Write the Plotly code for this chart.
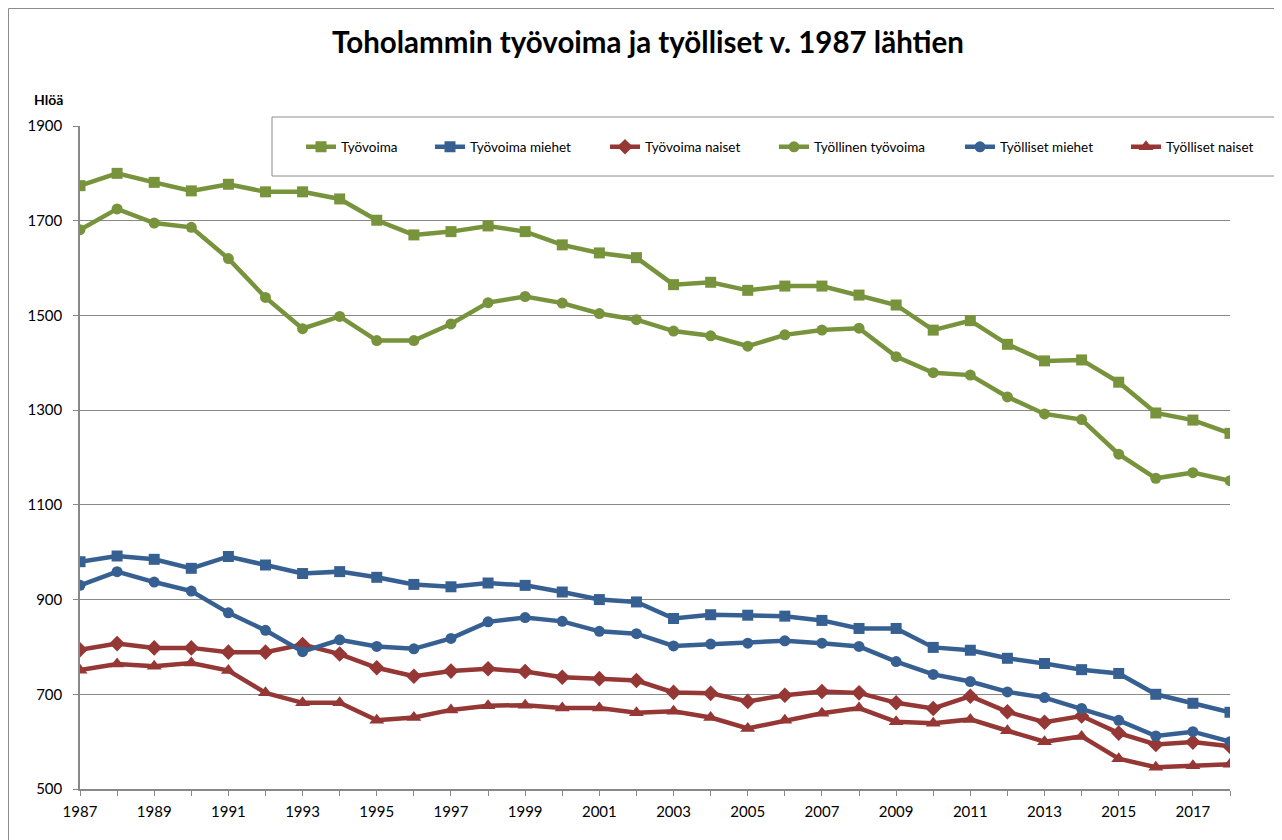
import plotly.graph_objects as go

# data
years = list(range(1987, 2019))

tyovoima = [1774, 1800, 1781, 1763, 1777, 1761, 1761, 1746, 1701, 1670, 1677, 1689,
            1677, 1649, 1632, 1622, 1565, 1570, 1553, 1562, 1562, 1543, 1522, 1469,
            1489, 1439, 1404, 1406, 1359, 1294, 1279, 1251]
tyovoima_miehet = [980, 992, 985, 966, 991, 973, 955, 959, 947, 932, 927, 935,
                   930, 916, 900, 895, 860, 868, 867, 865, 856, 839, 839, 799,
                   793, 776, 765, 752, 744, 700, 681, 662]
tyovoima_naiset = [794, 807, 798, 798, 789, 789, 805, 785, 756, 738, 749, 754,
                   748, 736, 733, 729, 704, 702, 685, 698, 706, 703, 682, 670,
                   696, 663, 641, 654, 618, 594, 599, 590]
tyollinen = [1681, 1725, 1695, 1686, 1620, 1538, 1472, 1498, 1447, 1447, 1482, 1527,
             1540, 1526, 1504, 1491, 1467, 1457, 1435, 1459, 1469, 1473, 1413, 1379,
             1374, 1328, 1292, 1280, 1207, 1156, 1168, 1151]
tyolliset_miehet = [930, 959, 937, 918, 872, 835, 790, 815, 801, 796, 818, 853,
                    862, 854, 833, 828, 802, 806, 808, 813, 808, 801, 769, 742,
                    727, 705, 693, 670, 645, 612, 621, 600]
tyolliset_naiset = [751, 764, 759, 766, 750, 703, 682, 682, 645, 651, 667, 676,
                    677, 671, 671, 661, 664, 651, 628, 645, 660, 671, 642, 639,
                    647, 623, 600, 611, 564, 546, 549, 552]

tick_labels = [str(y) if y % 2 == 1 else "" for y in years]

green = "#77933C"
blue = "#376092"
red = "#953735"
grid = "#888888"
font_name = "Lato"

series = [
    ("Työvoima", tyovoima, green, "square", 11),
    ("Työvoima miehet", tyovoima_miehet, blue, "square", 11),
    ("Työvoima naiset", tyovoima_naiset, red, "diamond", 12),
    ("Työllinen työvoima", tyollinen, green, "circle", 11),
    ("Työlliset miehet", tyolliset_miehet, blue, "circle", 11),
    ("Työlliset naiset", tyolliset_naiset, red, "triangle-up", 13),
]
# screen x where each legend entry's line starts in the reference
legend_starts = [303, 432, 607, 776, 962, 1128]

# page has an 8px body margin; plot area lands at 80..1230 x 126..789 on screen
OFF = 8
W, H = 1282 - OFF, 840 - OFF
L, R, T, B = 80 - OFF, 52, 126 - OFF, 51
pw, ph = W - L - R, H - T - B

def px(x):
    return (x - OFF - L) / pw

def py(y):
    return (H - B - (y - OFF)) / ph

fig = go.Figure()
legends = {}
for i, (name, vals, col, sym, size) in enumerate(series):
    key = "legend" if i == 0 else f"legend{i + 1}"
    fig.add_trace(go.Scatter(
        x=years, y=vals, name=name, legend=key, showlegend=True,
        mode="lines+markers",
        line=dict(color=col, width=4.5),
        marker=dict(symbol=sym, size=size, color=col),
    ))
    legends[key] = dict(
        orientation="h", x=px(legend_starts[i] - 2), xanchor="left",
        y=py(147), yanchor="middle",
        bgcolor="rgba(0,0,0,0)", borderwidth=0,
        font=dict(size=13.5, color="black", family=font_name),
    )

# legend box and the outer chart border
fig.add_shape(type="rect", xref="paper", yref="paper",
              x0=px(272), x1=px(1279), y0=py(176), y1=py(117),
              line=dict(color="#8c8c8c", width=1), fillcolor="white", layer="above")
fig.add_shape(type="line", xref="paper", yref="paper",
              x0=px(8.5), x1=px(8.5), y0=py(8.5), y1=py(850),
              line=dict(color="#8c8c8c", width=1))
fig.add_shape(type="line", xref="paper", yref="paper",
              x0=px(8.5), x1=px(1300), y0=py(8.5), y1=py(8.5),
              line=dict(color="#8c8c8c", width=1))

fig.add_annotation(text="<b>Hlöä</b>", xref="paper", yref="paper",
                   x=px(48), y=py(100), xanchor="center", yanchor="middle",
                   showarrow=False,
                   font=dict(size=14, color="black", family=font_name))

fig.update_xaxes(
    range=[1987, 2018], tickvals=years, ticktext=tick_labels,
    ticks="outside", ticklen=5, tickcolor=grid,
    showline=True, linecolor=grid, linewidth=1.5,
    showgrid=False, zeroline=False,
    tickfont=dict(size=15, color="black", family=font_name),
    ticklabelstandoff=3,
)
fig.update_yaxes(
    range=[500, 1900], tick0=500, dtick=200,
    ticks="outside", ticklen=5, tickcolor=grid,
    showline=True, linecolor=grid, linewidth=1.5,
    showgrid=True, gridcolor=grid, gridwidth=1, zeroline=False,
    tickfont=dict(size=15, color="black", family=font_name),
    ticklabelstandoff=8,
)

fig.update_layout(
    title=dict(text="<b>Toholammin työvoima ja työlliset v. 1987 lähtien</b>",
               x=(648 - OFF) / W, xanchor="center", y=1 - (43 - OFF) / H, yanchor="middle",
               font=dict(size=29.5, color="black", family=font_name)),
    width=W, height=H,
    showlegend=True,
    margin=dict(l=L, r=R, t=T, b=B, autoexpand=False),
    plot_bgcolor="white", paper_bgcolor="white",
    font=dict(family=font_name, color="black"),
    **legends,
)

fig.write_html("out.html")
